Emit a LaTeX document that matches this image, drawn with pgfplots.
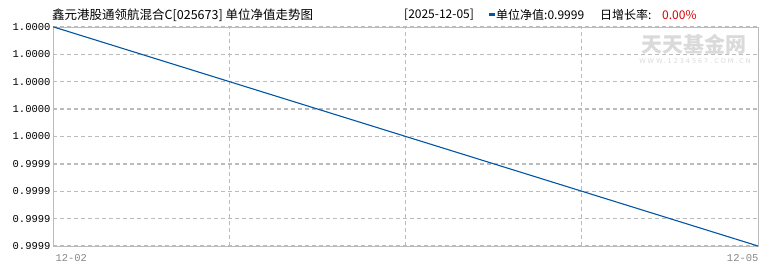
\documentclass[border=0pt]{standalone}
\usepackage{fontspec}
\setmainfont{Noto Sans CJK SC}
\newfontfamily\monofont{Liberation Mono}
\newfontfamily\wmfont[LetterSpace=30]{DejaVu Sans}
\usepackage{pgfplots}
\pgfplotsset{compat=1.18}
\definecolor{linec}{HTML}{0055A5}
\definecolor{gridc}{HTML}{BBBBBB}
\definecolor{framec}{HTML}{BBBBBB}
\definecolor{tickc}{HTML}{888888}
\definecolor{wm}{HTML}{DADADA}
\begin{document}
\begin{tikzpicture}[x=1pt,y=1pt]
\path[use as bounding box] (0,0) rectangle (770,270);
\begin{axis}[
  at={(53pt,24pt)}, anchor=south west,
  scale only axis, width=705pt, height=219pt,
  xmin=0, xmax=4, ymin=0, ymax=8,
  y filter/.expression={(y-0.9999)*80000},
  xtick={0,1,2,3,4}, xticklabels={},
  ytick={0,1,2,3,4,5,6,7,8},
  yticklabels={0.9999,0.9999,0.9999,0.9999,1.0000,1.0000,1.0000,1.0000,1.0000},
  yticklabel style={font=\monofont\fontsize{10.5}{12}\selectfont, text=black, xshift=1pt},
  major tick length=0pt,
  xmajorgrids=true, ymajorgrids=true,
  major grid style={gridc, dash pattern=on 4pt off 3pt, line width=0.8pt},
  y grid style={gridc, dash pattern=on 4pt off 3pt, line width=1.3pt},
  axis line style={framec, line width=1pt},
  clip=false,
]
\addplot[linec, line width=1.1pt] coordinates {(0,1.0000) (4,0.9999)};
\end{axis}
\node[anchor=west, text=tickc, font=\monofont\fontsize{10.5}{12}\selectfont] at (52,12) {12-02};
\node[anchor=east, text=tickc, font=\monofont\fontsize{10.5}{12}\selectfont] at (762,12) {12-05};
% title
\node[anchor=west, inner sep=0pt, font=\fontsize{12.5}{14}\selectfont] at (52,255) {鑫元港股通领航混合C[025673] 单位净值走势图};
\node[anchor=west, inner sep=0pt, font=\fontsize{12}{14}\selectfont] at (404,255) {[2025-12-05]};
\fill[linec] (489,253.5) rectangle (495,256.5);
\node[anchor=west, inner sep=0pt, font=\fontsize{12}{14}\selectfont] at (496,255) {单位净值:0.9999};
\node[anchor=west, inner sep=0pt, font=\fontsize{12}{14}\selectfont] at (600,255) {日增长率:};
\node[anchor=west, inner sep=0pt, text=red!85!black, font=\fontsize{12}{14}\selectfont] at (662,255) {0.00\%};
% watermark
\node[text=wm, inner sep=0pt, font=\fontsize{21}{22}\selectfont\bfseries] at (694,226) {天天基金网};
\node[text=wm, inner sep=0pt, font=\wmfont\fontsize{6.5}{7}\selectfont] at (695,209) {WWW.1234567.COM.CN};
\end{tikzpicture}
\end{document}
